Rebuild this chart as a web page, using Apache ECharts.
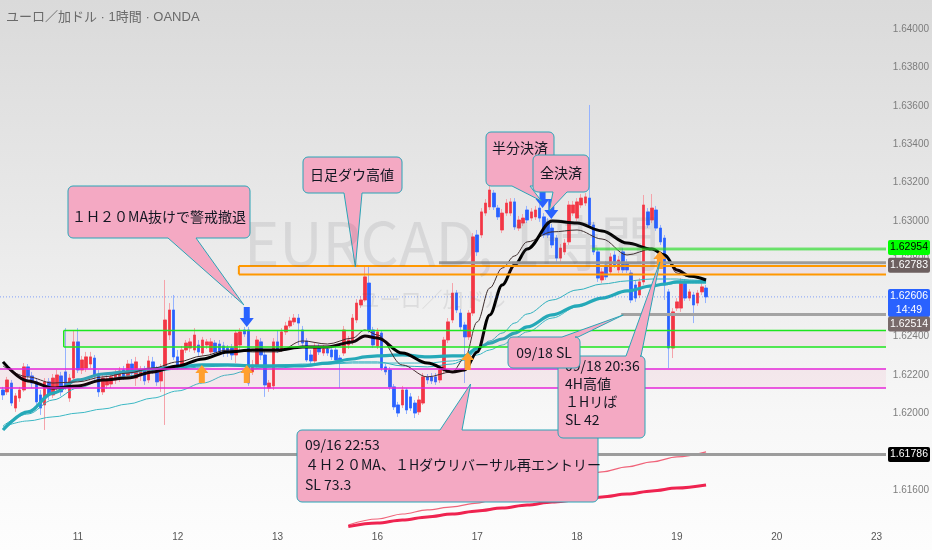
<!DOCTYPE html>
<html>
<head>
<meta charset="utf-8">
<script src="https://cdn.jsdelivr.net/npm/echarts@6/dist/echarts.min.js"></script>
<style>
html,body{margin:0;padding:0;background:#fff;}
#chart{width:932px;height:550px;background:linear-gradient(180deg,#dadada 0%,#e9e9e9 40%,#f7f7f7 75%,#fdfdfd 100%);}
</style>
</head>
<body>
<div id="chart"></div>
<script>
// ---------------- data ----------------
const days = ['10','11','12','13','16','17','18','19','20','23'];
const dayTickLabels = ['11','12','13','16','17','18','19','20','23'];

const open = [
1.62122,1.62112,1.62158,1.62028,1.62080,1.62122,1.62242,1.62195,1.62164,1.62096,
1.62044,1.62164,1.62096,1.62132,1.62195,1.62216,1.62080,1.62184,1.62372,1.62226,
1.62236,1.62257,1.62288,1.62195,1.62112,1.62148,1.62153,1.62174,1.62184,1.62226,
1.62195,1.62257,1.62184,1.62195,1.62226,1.62174,1.62268,1.62226,1.62169,1.62236,
1.62408,1.62538,1.62294,1.62252,1.62330,1.62340,1.62330,1.62356,1.62314,1.62356,
1.62320,1.62366,1.62361,1.62351,1.62340,1.62340,1.62304,1.62356,1.62434,1.62434,
1.62216,1.62252,1.62372,1.62304,1.62132,1.62143,1.62372,1.62330,1.62424,1.62455,
1.62476,1.62496,1.62434,1.62377,1.62304,1.62273,1.62346,1.62314,1.62335,1.62330,
1.62330,1.62288,1.62314,1.62356,1.62372,1.62486,1.62564,1.62590,1.62678,1.62434,
1.62351,1.62418,1.62242,1.62226,1.62138,1.62044,1.62044,1.62122,1.62086,1.62054,
1.62008,1.62054,1.62190,1.62190,1.62190,1.62174,1.62226,1.62382,1.62486,1.62626,
1.62522,1.62460,1.62398,1.62522,1.62928,1.62928,1.63042,1.63074,1.63146,1.63068,
1.62954,1.63042,1.63042,1.63100,1.62964,1.62990,1.63058,1.63016,1.63022,1.63068,
1.63022,1.62996,1.62964,1.62912,1.62808,1.62840,1.62892,1.63042,1.63016,1.63084,
1.63094,1.63120,1.62980,1.62840,1.62694,1.62772,1.62736,1.62824,1.62746,1.62840,
1.62782,1.62730,1.62668,1.62616,1.62684,1.63048,1.63006,1.63058,1.62964,1.62912,
1.62632,1.62340,1.62548,1.62548,1.62684,1.62600,1.62616,1.62574,1.62632,1.62652
];
const close = [
1.62096,1.62174,1.62054,1.62091,1.62122,1.62242,1.62195,1.62158,1.62060,1.62028,
1.62164,1.62096,1.62184,1.62200,1.62112,1.62143,1.62184,1.62372,1.62226,1.62278,
1.62294,1.62294,1.62195,1.62112,1.62184,1.62179,1.62190,1.62205,1.62221,1.62190,
1.62257,1.62210,1.62268,1.62226,1.62169,1.62273,1.62226,1.62164,1.62231,1.62486,
1.62538,1.62294,1.62247,1.62330,1.62366,1.62372,1.62408,1.62320,1.62382,1.62372,
1.62372,1.62320,1.62320,1.62314,1.62314,1.62304,1.62418,1.62424,1.62413,1.62158,
1.62252,1.62382,1.62304,1.62148,1.62158,1.62372,1.62330,1.62424,1.62455,1.62481,
1.62496,1.62470,1.62366,1.62278,1.62273,1.62346,1.62320,1.62335,1.62314,1.62294,
1.62278,1.62268,1.62434,1.62382,1.62496,1.62574,1.62590,1.62710,1.62434,1.62356,
1.62424,1.62236,1.62216,1.62138,1.62034,1.62002,1.62122,1.62018,1.62028,1.62002,
1.62070,1.62190,1.62174,1.62169,1.62164,1.62226,1.62382,1.62476,1.62626,1.62538,
1.62450,1.62398,1.62522,1.62918,1.62840,1.63048,1.63094,1.63162,1.63074,1.63022,
1.63042,1.63094,1.63100,1.62970,1.63006,1.63016,1.63006,1.63048,1.63058,1.63016,
1.62928,1.62928,1.62876,1.62808,1.62860,1.62886,1.63084,1.63084,1.63100,1.63120,
1.63126,1.62980,1.62840,1.62704,1.62736,1.62710,1.62814,1.62772,1.62798,1.62746,
1.62746,1.62590,1.62600,1.62684,1.63084,1.62980,1.63068,1.62964,1.62892,1.62668,
1.62340,1.62528,1.62580,1.62684,1.62600,1.62632,1.62564,1.62626,1.62658,1.62606
];
const high = [
1.62138,1.62190,1.62174,1.62106,1.62138,1.62262,1.62257,1.62216,1.62184,1.62122,
1.62184,1.62184,1.62205,1.62226,1.62216,1.62444,1.62205,1.62434,1.62444,1.62299,
1.62320,1.62320,1.62304,1.62226,1.62205,1.62200,1.62210,1.62226,1.62242,1.62247,
1.62278,1.62283,1.62294,1.62247,1.62247,1.62299,1.62294,1.62247,1.62257,1.62694,
1.62574,1.62616,1.62330,1.62351,1.62382,1.62392,1.62444,1.62382,1.62398,1.62387,
1.62392,1.62382,1.62382,1.62372,1.62356,1.62361,1.62434,1.62444,1.62450,1.62450,
1.62278,1.62403,1.62392,1.62330,1.62174,1.62392,1.62434,1.62444,1.62476,1.62502,
1.62517,1.62517,1.62455,1.62392,1.62330,1.62366,1.62361,1.62356,1.62351,1.62351,
1.62346,1.62304,1.62455,1.62403,1.62517,1.62595,1.62611,1.62762,1.62762,1.62450,
1.62444,1.62434,1.62257,1.62242,1.62153,1.62060,1.62143,1.62132,1.62106,1.62070,
1.62091,1.62210,1.62205,1.62210,1.62210,1.62247,1.62398,1.62496,1.62678,1.62642,
1.62543,1.62476,1.62538,1.62938,1.62954,1.63068,1.63115,1.63183,1.63162,1.63084,
1.63063,1.63115,1.63120,1.63120,1.63027,1.63037,1.63079,1.63068,1.63079,1.63089,
1.63042,1.63016,1.62985,1.62928,1.62881,1.62907,1.63105,1.63105,1.63120,1.63141,
1.63146,1.63604,1.62996,1.62855,1.62756,1.62793,1.62834,1.62845,1.62819,1.62860,
1.62803,1.62746,1.62689,1.62704,1.63136,1.63068,1.63141,1.63079,1.62980,1.62928,
1.62647,1.62548,1.62600,1.62704,1.62699,1.62647,1.62632,1.62642,1.62704,1.62668
];
const low = [
1.62070,1.62096,1.62039,1.62008,1.62060,1.62112,1.62174,1.62132,1.62044,1.61992,
1.61914,1.62070,1.62080,1.62112,1.62091,1.62122,1.62060,1.62174,1.62210,1.62205,
1.62216,1.62236,1.62174,1.62086,1.62096,1.62127,1.62132,1.62153,1.62164,1.62174,
1.62179,1.62190,1.62143,1.62169,1.62148,1.62158,1.62205,1.62143,1.62112,1.61940,
1.62382,1.62278,1.62226,1.62231,1.62314,1.62320,1.62314,1.62299,1.62299,1.62335,
1.62304,1.62299,1.62304,1.62294,1.62294,1.62278,1.62262,1.62330,1.62398,1.62143,
1.62200,1.62236,1.62278,1.62086,1.62112,1.62122,1.62314,1.62320,1.62408,1.62444,
1.62460,1.62356,1.62351,1.62268,1.62257,1.62257,1.62304,1.62299,1.62299,1.62278,
1.62262,1.62132,1.62299,1.62335,1.62356,1.62470,1.62548,1.62580,1.62418,1.62340,
1.62335,1.62221,1.62200,1.62122,1.62018,1.61982,1.62028,1.61997,1.62013,1.61976,
1.61992,1.62044,1.62153,1.62153,1.62148,1.62158,1.62210,1.62366,1.62470,1.62522,
1.62434,1.62158,1.62382,1.62507,1.62819,1.62912,1.63027,1.63058,1.63058,1.63006,
1.62938,1.63027,1.63027,1.62954,1.62949,1.62975,1.62990,1.63001,1.63006,1.62996,
1.62912,1.62912,1.62860,1.62788,1.62788,1.62824,1.62876,1.63027,1.63001,1.63068,
1.63079,1.62964,1.62824,1.62684,1.62678,1.62694,1.62720,1.62756,1.62730,1.62730,
1.62730,1.62574,1.62580,1.62600,1.62668,1.62964,1.62990,1.62949,1.62876,1.62590,
1.62236,1.62288,1.62533,1.62528,1.62585,1.62585,1.62470,1.62559,1.62616,1.62574
];

// moving averages at these bars
const maIdx = [0,6,12,18,24,30,36,42,48,54,60,66,72,78,84,87,90,96,102,108,111,114,117,120,123,126,132,138,144,150,156,159,162,165,169];
const ma1hThick = [1.62268,1.62169,1.62132,1.62143,1.62174,1.62184,1.62216,1.62247,1.62283,1.62320,1.62330,1.62330,1.62346,1.62346,1.62372,1.62403,1.62392,1.62314,1.62262,1.62216,1.62226,1.62320,1.62512,1.62668,1.62772,1.62855,1.63001,1.62990,1.62949,1.62886,1.62855,1.62824,1.62746,1.62715,1.62694];
const ma1hThin = [1.62247,1.62190,1.62158,1.62164,1.62190,1.62210,1.62236,1.62268,1.62299,1.62330,1.62320,1.62320,1.62377,1.62361,1.62392,1.62434,1.62408,1.62252,1.62190,1.62216,1.62288,1.62476,1.62652,1.62756,1.62819,1.62892,1.62944,1.62954,1.62907,1.62824,1.62855,1.62829,1.62730,1.62710,1.62694];
const ma4hThick = [1.61914,1.62008,1.62106,1.62174,1.62205,1.62216,1.62231,1.62242,1.62252,1.62252,1.62247,1.62247,1.62247,1.62262,1.62283,1.62294,1.62299,1.62304,1.62294,1.62299,1.62299,1.62340,1.62366,1.62387,1.62418,1.62450,1.62512,1.62559,1.62600,1.62637,1.62663,1.62673,1.62684,1.62684,1.62684];
const ma4hThinA = [1.61935,1.61997,1.62070,1.62132,1.62174,1.62195,1.62216,1.62231,1.62242,1.62247,1.62242,1.62236,1.62247,1.62257,1.62268,1.62268,1.62268,1.62247,1.62242,1.62257,1.62278,1.62330,1.62377,1.62418,1.62470,1.62517,1.62590,1.62642,1.62673,1.62689,1.62699,1.62699,1.62699,1.62694,1.62689];
const ma4hThinB = [1.61930,1.61961,1.61982,1.62002,1.62023,1.62049,1.62080,1.62117,1.62158,1.62200,1.62231,1.62252,1.62257,1.62257,1.62262,1.62262,1.62262,1.62262,1.62262,1.62273,1.62283,1.62304,1.62330,1.62356,1.62392,1.62424,1.62496,1.62554,1.62600,1.62637,1.62663,1.62668,1.62678,1.62678,1.62678];
const dailyIdx = [83,90,96,102,108,114,120,126,132,138,144,150,156,162,169];
const dailyThin = [1.61420,1.61451,1.61477,1.61498,1.61514,1.61534,1.61566,1.61602,1.61633,1.61664,1.61696,1.61722,1.61748,1.61774,1.61800];
const dailyThick = [1.61412,1.61430,1.61446,1.61462,1.61477,1.61493,1.61508,1.61524,1.61540,1.61550,1.61566,1.61581,1.61597,1.61612,1.61628];

// price axis
const priceMin = 1.614, priceMax = 1.6415, priceStep = 0.002;

// drawn price levels
const lvlGreenTop = 1.62855, lvlGreenTopText = '1.62954';
const lvlGreyA = 1.62783;
const lvlLast = 1.62606, lastTimer = '14:49';
const lvlGreyB = 1.62514;
const lvlGreyC = 1.61786;
const zoneOrange = [1.62767, 1.62723];
const zoneGreen = [1.62431, 1.62346];
const zoneMagenta = [1.62231, 1.62132];

// ---------------- chart ----------------
const categories = [];
days.forEach((d, k) => {
  const hs = k === 0 ? 6 : 0;
  const he = k === days.length - 1 ? 2 : 24;
  for (let h = hs; h < he; h++) categories.push(d + ' ' + (h < 10 ? '0' : '') + h + ':00');
});

const wickData = open.map((o, i) => [o, close[i], low[i], high[i]]);
const bodyData = open.map((o, i) => [o, close[i], Math.min(o, close[i]), Math.max(o, close[i])]);
const pairs = (idx, vals) => idx.map((i, k) => [i, vals[k]]);

const FONT_NUM = '"Liberation Sans", Roboto, sans-serif';
const FONT_JP = '"Noto Sans CJK JP", "Noto Sans", sans-serif';
const FONT_TITLE = '"Liberation Sans", "Noto Sans CJK JP", sans-serif';

const chart = echarts.init(document.getElementById('chart'), null, {renderer: 'canvas'});
const lineS = (data, color, width, z) => ({type: 'line', data, smooth: 0.35, smoothMonotone: 'x', symbol: 'none', silent: true,
  lineStyle: {color, width}, z});

chart.setOption({
  animation: false,
  backgroundColor: 'transparent',
  grid: {left: 0, right: 46, top: 0, bottom: 21.2, containLabel: false},
  xAxis: {
    type: 'category', data: categories, boundaryGap: true,
    axisLine: {show: false}, axisTick: {show: false}, splitLine: {show: false},
    axisLabel: {interval: 0, margin: 3, color: '#555555', fontSize: 10, fontFamily: FONT_NUM,
      formatter: v => { const p = v.split(' '); return (p[1] === '00:00' && dayTickLabels.indexOf(p[0]) >= 0) ? p[0] : ''; }}
  },
  yAxis: {
    type: 'value', position: 'right', min: priceMin, max: priceMax, interval: priceStep, scale: true,
    axisLine: {show: false}, axisTick: {show: false}, splitLine: {show: false},
    axisLabel: {margin: 10, color: '#7d7d7d', fontSize: 10, fontFamily: FONT_NUM, showMinLabel: false, showMaxLabel: false,
      formatter: v => v.toFixed(5)}
  },
  series: [
    {type: 'candlestick', data: wickData, barWidth: 3, silent: true, z: 2,
      itemStyle: {color: '#f5a3aa', color0: '#95b3ff', borderColor: '#f5a3aa', borderColor0: '#95b3ff', borderWidth: 1}},
    {type: 'candlestick', data: bodyData, barWidth: 3, silent: true, z: 3,
      itemStyle: {color: '#f23645', color0: '#2962ff', borderColor: '#f23645', borderColor0: '#2962ff', borderWidth: 0.6}},
    lineS(pairs(dailyIdx, dailyThin), '#f0647a', 1.2, 4),
    lineS(pairs(dailyIdx, dailyThick), '#ef2350', 3, 4),
    lineS(pairs(maIdx, ma4hThinB), '#3cb8c4', 1, 4),
    lineS(pairs(maIdx, ma4hThinA), '#2fb0bd', 1, 4),
    lineS(pairs(maIdx, ma4hThick), '#25a9b8', 3.2, 4),
    lineS(pairs(maIdx, ma1hThin), '#3b2b2b', 1, 5),
    lineS(pairs(maIdx, ma1hThick), '#000000', 3, 5)
  ]
});

// ---------------- drawings (anchored through the chart's own scales) ----------------
const PL = 0, PR = 886;
const X = f => { const a = Math.floor(f); const xa = chart.convertToPixel({xAxisIndex: 0}, a); const xb = chart.convertToPixel({xAxisIndex: 0}, a + 1); return xa + (f - a) * (xb - xa); };
const Y = p => chart.convertToPixel({yAxisIndex: 0}, p);
const G = [];

function txt(s, x, y, o) {
  return {type: 'text', z: o.z || 70, silent: true, style: {text: s, x, y, font: o.font, fill: o.fill || '#131722',
    textAlign: o.align || 'left', textVerticalAlign: 'middle', align: o.align || 'left', verticalAlign: 'middle'}};
}
function hline(y, x0, color, width, z, dash) {
  const st = {stroke: color, lineWidth: width};
  if (dash) st.lineDash = dash;
  return {type: 'line', z, silent: true, shape: {x1: x0, y1: y, x2: PR, y2: y}, style: st};
}
function zone(pTop, pBot, x0, color, width, showLeft) {
  const yt = Y(pTop), yb = Y(pBot);
  G.push({type: 'rect', z: 12, silent: true, shape: {x: x0, y: yt, width: PR - x0, height: yb - yt}, style: {fill: 'rgba(236,64,122,0.07)'}});
  G.push(hline(yt, x0, color, width, 14));
  G.push(hline(yb, x0, color, width, 14));
  if (showLeft) G.push({type: 'line', z: 14, silent: true, shape: {x1: x0, y1: yt, x2: x0, y2: yb}, style: {stroke: color, lineWidth: width}});
}
function downArrow(f, p, color) {
  const x = X(f), y = Y(p), s = 3, hw = 7, hh = 9, L = 20;
  G.push({type: 'polygon', z: 60, silent: true, shape: {points: [[x - s, y - L], [x + s, y - L], [x + s, y - hh], [x + hw, y - hh], [x, y], [x - hw, y - hh], [x - s, y - hh]]}, style: {fill: color}});
}
function upArrow(f, p, color) {
  const x = X(f), y = Y(p), s = 3, hw = 6.5, hh = 8, L = 18;
  G.push({type: 'polygon', z: 60, silent: true, shape: {points: [[x, y], [x + hw, y + hh], [x + s, y + hh], [x + s, y + L], [x - s, y + L], [x - s, y + hh], [x - hw, y + hh]]}, style: {fill: color}});
}
function callout(box, edge, a, b, tipF, tipP, z) {
  const [x, y, w, h] = box, r = 5, tip = [X(tipF), Y(tipP)];
  const pts = [];
  const arc = (cx, cy, a0, a1) => { for (let k = 0; k <= 4; k++) { const t = (a0 + (a1 - a0) * k / 4) * Math.PI / 180; pts.push([cx + r * Math.cos(t), cy + r * Math.sin(t)]); } };
  arc(x + r, y + r, 180, 270);
  if (edge === 'top') pts.push([a, y], tip, [b, y]);
  arc(x + w - r, y + r, 270, 360);
  arc(x + w - r, y + h - r, 0, 90);
  if (edge === 'bottom') pts.push([b, y + h], tip, [a, y + h]);
  arc(x + r, y + h - r, 90, 180);
  G.push({type: 'polygon', z, silent: true, shape: {points: pts}, style: {fill: '#f4a9c3', stroke: '#2aa4b6', lineWidth: 1}});
}
function priceLabel(lines, yc, h, bg, fg) {
  G.push({type: 'rect', z: 80, silent: true, shape: {x: 888, y: yc - h / 2, width: 42, height: h, r: 2}, style: {fill: bg}});
  const lh = h / lines.length;
  lines.forEach((s, k) => G.push(txt(s, 909, yc - h / 2 + lh * (k + 0.5), {align: 'center', fill: fg, font: '10.5px ' + FONT_NUM, z: 81})));
}

// watermark
G.push(txt('EURCAD, 1時間', 452, 243, {align: 'center', fill: 'rgba(90,90,100,0.13)', font: '60px ' + FONT_JP, z: 0}));
G.push(txt('ユーロ／加ドル', 432, 299, {align: 'center', fill: 'rgba(90,90,100,0.13)', font: '21px ' + FONT_JP, z: 0}));
// title
G.push(txt('ユーロ／加ドル · 1時間 · OANDA', 6, 17, {fill: '#6a6a6a', font: '13px ' + FONT_TITLE, z: 90}));

// zones and levels
zone(zoneMagenta[0], zoneMagenta[1], PL, '#e426d8', 1.5, false);
zone(zoneGreen[0], zoneGreen[1], X(14.6), '#1ee51e', 1.5, true);
zone(zoneOrange[0], zoneOrange[1], X(56.7), '#ff9800', 2, true);
G.push(hline(Y(lvlGreyA), X(104.8), '#9c9c9c', 3, 13));
G.push(hline(Y(lvlGreenTop), X(141.6), 'rgba(40,220,40,0.3)', 4, 13));
G.push(hline(Y(lvlGreenTop), X(141.6), '#22dd22', 1, 14));
G.push(hline(Y(lvlGreyB), X(148.6), '#a3a3a3', 3, 13));
G.push(hline(Y(lvlGreyC), PL, '#9c9c9c', 3, 13));
G.push(hline(Y(lvlLast), PL, 'rgba(41,98,255,0.55)', 1, 13, [1, 2]));

// arrows
downArrow(58.6, 1.62450, '#2962ff');
downArrow(129.7, 1.63068, '#2962ff');
downArrow(131.8, 1.63011, '#2962ff');
upArrow(47.8, 1.62252, '#ff9f2e');
upArrow(58.6, 1.62252, '#ff9f2e');
upArrow(111.7, 1.62320, '#ff9f2e');
upArrow(157.9, 1.62845, '#ff9f2e');

// callouts
callout([297, 430, 301, 72], 'top', 440, 462, 112.4, 1.62153, 62);
G.push(txt('09/16 22:53', 305, 445, {font: '14px ' + FONT_JP, z: 63}));
G.push(txt('４Ｈ２０MA、１Hダウリバーサル再エントリー', 305, 465, {font: '14px ' + FONT_JP, z: 63}));
G.push(txt('SL 73.3', 305, 485, {font: '14px ' + FONT_JP, z: 63}));

callout([68, 186, 182, 52], 'bottom', 168, 196, 57.9, 1.62564, 62);
G.push(txt('１Ｈ２０MA抜けで警戒撤退', 159, 217, {align: 'center', font: '14px ' + FONT_JP, z: 63}));

callout([303, 157, 99, 36], 'bottom', 344, 362, 84.7, 1.62762, 62);
G.push(txt('日足ダウ高値', 352, 175, {align: 'center', font: '14px ' + FONT_JP, z: 63}));

callout([486, 132, 68, 54], 'bottom', 512, 530, 129.4, 1.63105, 64);
G.push(txt('半分決済', 520, 148, {align: 'center', font: '14px ' + FONT_JP, z: 65}));
callout([533, 155, 56, 37], 'bottom', 553, 567, 131.3, 1.63053, 66);
G.push(txt('全決済', 561, 173, {align: 'center', font: '14px ' + FONT_JP, z: 67}));

callout([558, 356, 87, 82], 'top', 626, 641, 157.9, 1.62788, 64);
G.push(txt('09/18 20:36', 565, 366, {font: '14px ' + FONT_JP, z: 65}));
G.push(txt('4H高値', 565, 384, {font: '14px ' + FONT_JP, z: 65}));
G.push(txt('１Hリば', 565, 402, {font: '14px ' + FONT_JP, z: 65}));
G.push(txt('SL 42', 565, 420, {font: '14px ' + FONT_JP, z: 65}));
callout([508, 337, 72, 31], 'top', 562, 578, 149.1, 1.62512, 66);
G.push(txt('09/18 SL', 544, 353, {align: 'center', font: '14px ' + FONT_JP, z: 67}));

// price scale labels
priceLabel([lvlGreenTopText], Y(lvlGreenTop) - 1.5, 15, '#00ff00', '#000000');
priceLabel([lvlGreyA.toFixed(5)], Y(lvlGreyA) + 2.5, 15, '#6d6060', '#ffffff');
priceLabel([lvlLast.toFixed(5), lastTimer], Y(lvlLast) + 6, 28, '#2962ff', '#ffffff');
priceLabel([lvlGreyB.toFixed(5)], Y(lvlGreyB) + 9.5, 15, '#786a6a', '#ffffff');
priceLabel([lvlGreyC.toFixed(5)], Y(lvlGreyC), 15, '#000000', '#ffffff');

chart.setOption({graphic: {elements: G}});
</script>
</body>
</html>
